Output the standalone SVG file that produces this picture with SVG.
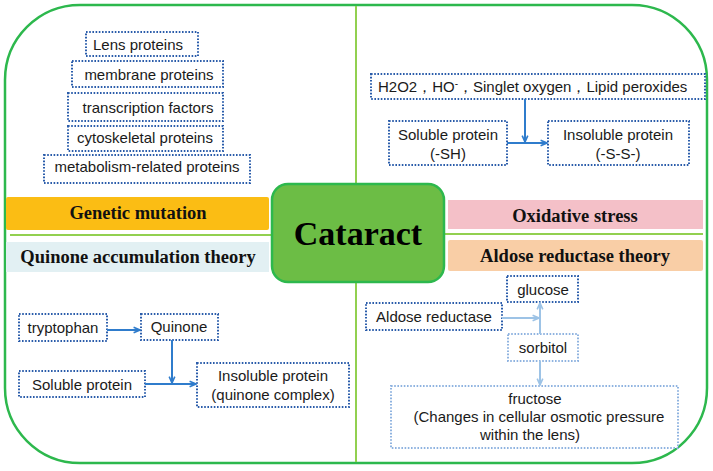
<svg xmlns="http://www.w3.org/2000/svg" width="713" height="471" viewBox="0 0 713 471">
<style>
.box{fill:#fff;stroke:#2a5caa;stroke-width:2;stroke-dasharray:1.6 1.6}
.lbox{fill:#fff;stroke:#8fb3e0;stroke-width:2;stroke-dasharray:1.6 1.6}
.t{font-family:"Liberation Sans",Arial,sans-serif;font-size:15px;fill:#1a1a1a;text-anchor:middle}
.h{font-family:"Liberation Serif","Times New Roman",serif;font-weight:bold;font-size:18.5px;fill:#111;text-anchor:middle}
.a{stroke:#2f7ccc;stroke-width:2;fill:none}
.la{stroke:#9dc3e6;stroke-width:2;fill:none}
</style>
<defs>
<marker id="ah" viewBox="0 0 10 10" refX="9" refY="5" markerWidth="8" markerHeight="8" orient="auto" markerUnits="userSpaceOnUse">
<path d="M1,1.5 L9,5 L1,8.5" fill="none" stroke="#2f7ccc" stroke-width="2"/>
</marker>
<marker id="lah" viewBox="0 0 10 10" refX="9" refY="5" markerWidth="8" markerHeight="8" orient="auto" markerUnits="userSpaceOnUse">
<path d="M1,1.5 L9,5 L1,8.5" fill="none" stroke="#9dc3e6" stroke-width="2"/>
</marker>
</defs>
<rect width="713" height="471" fill="#fff"/>
<rect x="5" y="5" width="702" height="458" rx="75" ry="75" fill="none" stroke="#2db84d" stroke-width="2.5"/>
<line x1="356" y1="6" x2="356" y2="462" stroke="#92d050" stroke-width="2"/>
<line x1="10" y1="235" x2="272" y2="235" stroke="#92d050" stroke-width="2"/>
<line x1="444" y1="234" x2="703" y2="234" stroke="#92d050" stroke-width="2"/>

<g id="genetic-mutation"><rect x="6" y="197" width="263" height="33" rx="2" fill="#fbbd14"/><text class="h" x="138" y="219">Genetic mutation</text></g>
<g id="quinone-theory"><rect x="6" y="242" width="263" height="30" fill="#e2f0f3"/><text class="h" x="138" y="263">Quinone accumulation theory</text></g>
<g id="oxidative-stress"><rect x="448" y="200" width="255" height="29" fill="#f4c0c8"/><text class="h" x="575" y="222">Oxidative stress</text></g>
<g id="aldose-theory"><rect x="448" y="240" width="255" height="31" rx="2" fill="#f9cea6"/><text class="h" x="575" y="262">Aldose reductase theory</text></g>
<g id="cataract"><rect x="272" y="184" width="172" height="98" rx="16" fill="#6cbd45" stroke="#2db84d" stroke-width="2.5"/><text x="358" y="245" font-family="Liberation Serif,'Times New Roman',serif" font-weight="bold" font-size="34" text-anchor="middle" fill="#000">Cataract</text></g>

<g id="lens-proteins"><rect class="box" x="86" y="32" width="112" height="24"/><text class="t" x="138" y="50">Lens proteins</text></g>
<g id="membrane-proteins"><rect class="box" x="72" y="61" width="151" height="26"/><text class="t" x="149" y="80">membrane proteins</text></g>
<g id="transcription-factors"><rect class="box" x="68" y="93" width="155" height="28"/><text class="t" x="148" y="113">transcription factors</text></g>
<g id="cytoskeletal-proteins"><rect class="box" x="68" y="126" width="155" height="25"/><text class="t" x="145" y="143">cytoskeletal proteins</text></g>
<g id="metabolism-proteins"><rect class="box" x="44" y="155" width="206" height="28"/><text class="t" x="147" y="172">metabolism-related proteins</text></g>

<g id="ros"><rect class="box" x="371" y="74" width="334" height="25"/><text class="t" x="378" y="92" style="text-anchor:start">H2O2，HO<tspan dy="-5" font-size="10">-</tspan><tspan dy="5">，Singlet oxygen，Lipid peroxides</tspan></text></g>
<g id="soluble-sh"><rect class="box" x="389" y="121" width="118" height="44"/><text class="t" x="448" y="140">Soluble protein</text><text class="t" x="448" y="159">(-SH)</text></g>
<g id="insoluble-ss"><rect class="box" x="548" y="121" width="141" height="44"/><text class="t" x="618" y="140">Insoluble protein</text><text class="t" x="618" y="159">(-S-S-)</text></g>

<g id="tryptophan"><rect class="box" x="19" y="314" width="88" height="27"/><text class="t" x="63" y="333">tryptophan</text></g>
<g id="quinone"><rect class="box" x="141" y="314" width="77" height="26"/><text class="t" x="179" y="332">Quinone</text></g>
<g id="soluble-protein"><rect class="box" x="19" y="371" width="126" height="26"/><text class="t" x="82" y="390">Soluble protein</text></g>
<g id="insoluble-quinone"><rect class="box" x="197" y="363" width="152" height="44"/><text class="t" x="273" y="381">Insoluble protein</text><text class="t" x="273" y="400">(quinone complex)</text></g>

<g id="glucose"><rect class="box" x="507" y="276" width="71" height="26"/><text class="t" x="543" y="295">glucose</text></g>
<g id="aldose-reductase"><rect class="box" x="366" y="303" width="136" height="27"/><text class="t" x="434" y="322">Aldose reductase</text></g>
<g id="sorbitol"><rect class="lbox" x="508" y="334" width="70" height="27"/><text class="t" x="543" y="353">sorbitol</text></g>
<g id="fructose"><rect class="lbox" x="391" y="386" width="287" height="62"/><text class="t" x="535" y="404">fructose</text><text class="t" x="539" y="422">(Changes in cellular osmotic pressure</text><text class="t" x="530" y="440">within the lens)</text></g>

<g id="connectors">
<path class="a" d="M525,99 V142" marker-end="url(#ah)"/>
<path class="a" d="M507,143 H547" marker-end="url(#ah)"/>
<path class="a" d="M107,330 H140" marker-end="url(#ah)"/>
<path class="a" d="M172,340 V383" marker-end="url(#ah)"/>
<path class="a" d="M145,384 H196" marker-end="url(#ah)"/>
<path class="la" d="M540,334 V303" marker-end="url(#lah)"/>
<path class="la" d="M502,318 H539" marker-end="url(#lah)"/>
<path class="la" d="M540,361 V385" marker-end="url(#lah)"/>
</g>
</svg>
